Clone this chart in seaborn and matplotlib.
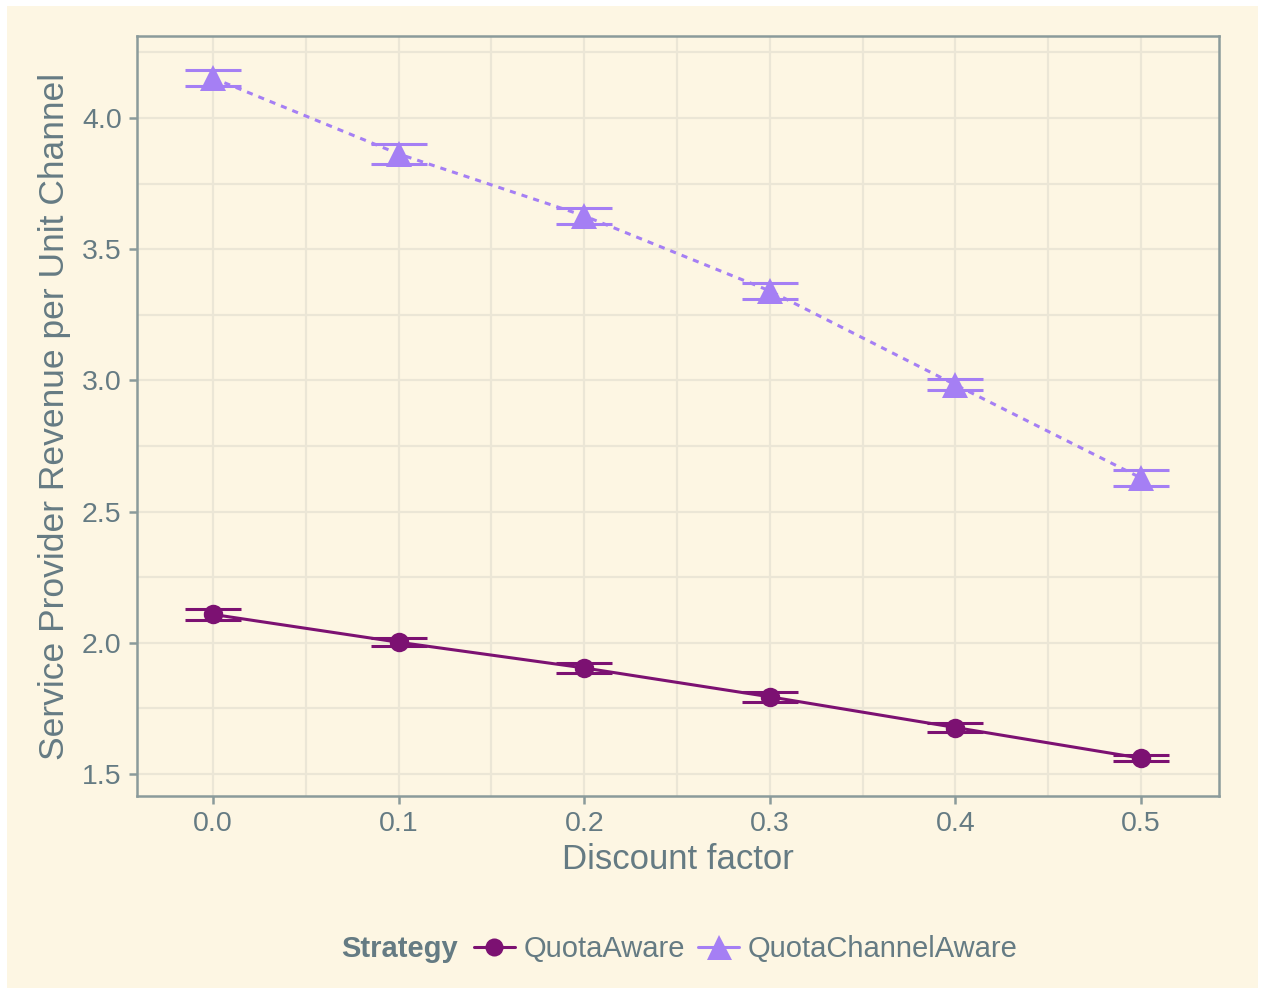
import matplotlib
matplotlib.use("Agg")
import matplotlib.pyplot as plt
from matplotlib.patches import Rectangle
from matplotlib.lines import Line2D
from matplotlib.ticker import MultipleLocator
import numpy as np
import pandas as pd
import seaborn as sns

# Revenue per unit channel by discount factor, for two strategies
discount = [0.0, 0.1, 0.2, 0.3, 0.4, 0.5]
strategies = ["QuotaAware", "QuotaChannelAware"]
quota_aware_mean = [2.108, 2.002, 1.904, 1.794, 1.677, 1.560]
quota_aware_err = [0.021, 0.015, 0.019, 0.019, 0.016, 0.011]
quota_channel_mean = [4.152, 3.863, 3.627, 3.341, 2.983, 2.628]
quota_channel_err = [0.030, 0.037, 0.030, 0.030, 0.021, 0.030]

df = pd.DataFrame({
    "Discount factor": discount * 2,
    "Revenue": quota_aware_mean + quota_channel_mean,
    "err": quota_aware_err + quota_channel_err,
    "Strategy": [strategies[0]] * 6 + [strategies[1]] * 6,
})

BG = "#fdf6e3"
TXT = "#657b83"
GRID = "#ebe6d6"
AXC = "#8b9b9b"
palette = {"QuotaAware": "#7c1172", "QuotaChannelAware": "#a57ff4"}
markers = {"QuotaAware": "o", "QuotaChannelAware": "^"}
dashes = {"QuotaAware": "", "QuotaChannelAware": (2, 2)}
msize = {"QuotaAware": 14, "QuotaChannelAware": 19}

sns.set_theme(style="white")
plt.rcParams["font.family"] = ["Liberation Sans", "DejaVu Sans"]

fig = plt.figure(figsize=(12.64, 9.94), dpi=100, facecolor="white")
fig.patches.append(Rectangle((7 / 1264, 6 / 994), 1251 / 1264, 982 / 994,
                             transform=fig.transFigure, facecolor=BG,
                             edgecolor="none", zorder=-10))
ax = fig.add_axes([137 / 1264, 1 - 796 / 994, (1219 - 137) / 1264, (796 - 36) / 994])
ax.set_facecolor(BG)

sns.lineplot(data=df, x="Discount factor", y="Revenue", hue="Strategy",
             style="Strategy", palette=palette, dashes=dashes, markers=False,
             linewidth=2.2, legend=False, ax=ax, zorder=3)

for s in strategies:
    sub = df[df["Strategy"] == s]
    ax.errorbar(sub["Discount factor"], sub["Revenue"], yerr=sub["err"],
                fmt="none", ecolor=palette[s], elinewidth=2.2, capsize=20,
                capthick=2.2, zorder=4)
    ax.plot(sub["Discount factor"], sub["Revenue"], linestyle="none",
            marker=markers[s], markersize=msize[s], color=palette[s],
            markeredgewidth=0, zorder=5)

ax.set_xlim(-0.041, 0.542)
ax.set_ylim(1.416, 4.3125)
ax.xaxis.set_major_locator(MultipleLocator(0.1))
ax.xaxis.set_minor_locator(MultipleLocator(0.05))
ax.yaxis.set_major_locator(MultipleLocator(0.5))
ax.yaxis.set_minor_locator(MultipleLocator(0.25))
ax.set_xticks(discount)
ax.set_xticklabels([f"{v:.1f}" for v in discount])
ax.set_yticks([1.5, 2.0, 2.5, 3.0, 3.5, 4.0])
ax.set_yticklabels(["1.5", "2.0", "2.5", "3.0", "3.5", "4.0"])

ax.grid(True, which="major", color=GRID, linewidth=1.6, zorder=0)
ax.grid(True, which="minor", color=GRID, linewidth=1.6, zorder=0)
ax.set_axisbelow(True)

for sp in ax.spines.values():
    sp.set_visible(True)
    sp.set_color(AXC)
    sp.set_linewidth(1.8)

ax.tick_params(axis="both", which="major", direction="out", length=6,
               width=1.8, color=AXC, labelsize=20.5, labelcolor=TXT, pad=5,
               bottom=True, left=True)
ax.tick_params(axis="both", which="minor", length=0)

ax.set_xlabel("Discount factor", fontsize=25, color=TXT, labelpad=4)
ax.set_ylabel("Service Provider Revenue per Unit Channel", fontsize=25.5,
              color=TXT, labelpad=8)

# Legend along the bottom with the title on its left
fig.text(341 / 1264, 1 - 949 / 994, "Strategy", fontsize=21, fontweight="bold",
         color=TXT, ha="left", va="center")
handles = [Line2D([], [], color=palette[s], marker=markers[s],
                  markersize=msize[s] - 1, linewidth=2.2, markeredgewidth=0)
           for s in strategies]
leg = fig.legend(handles, strategies, loc="center left",
                 bbox_to_anchor=(474 / 1264, 1 - 949 / 994), ncol=2,
                 frameon=False, fontsize=21, handlelength=1.4,
                 handletextpad=0.3, columnspacing=0.45, borderpad=0,
                 borderaxespad=0)
for t in leg.get_texts():
    t.set_color(TXT)

fig.savefig("out.png", dpi=100, facecolor="white")
